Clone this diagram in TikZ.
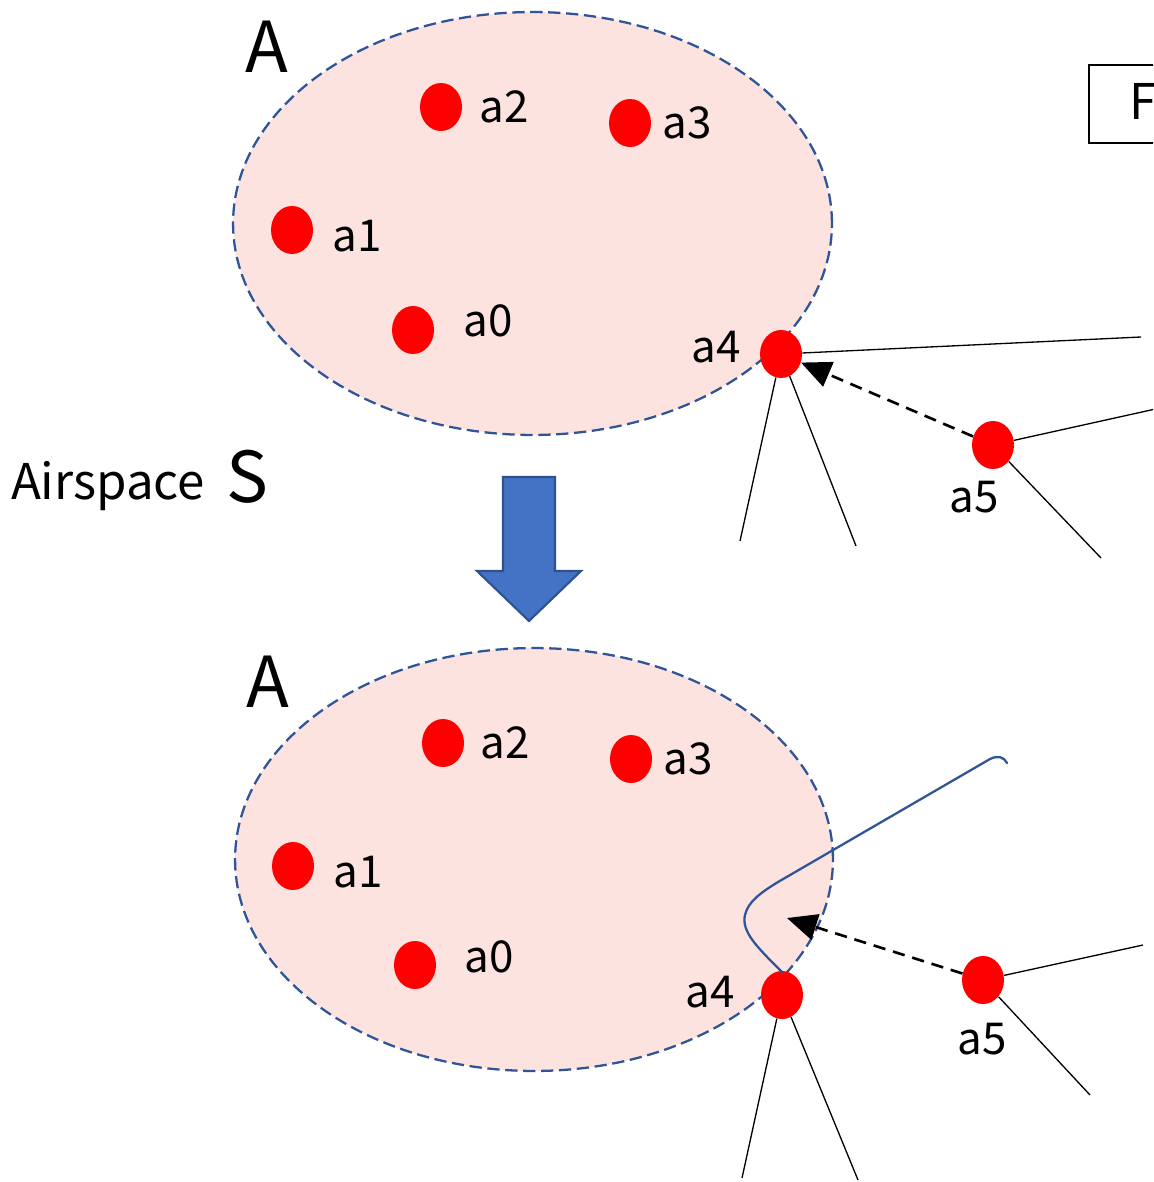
\documentclass[tikz,border=0pt]{standalone}
\usepackage{fontspec}
\setmainfont{Noto Sans CJK JP}
\usetikzlibrary{arrows.meta,shapes.geometric}
\definecolor{pinkfill}{HTML}{FDE3E0}
\definecolor{edgeblue}{HTML}{2F5597}
\definecolor{arrowfill}{HTML}{4472C4}
\definecolor{arrowedge}{HTML}{2F528F}
\begin{document}
\begin{tikzpicture}[x=0.02cm,y=-0.02cm,
  region/.style={ellipse, draw=edgeblue, fill=pinkfill, line width=1.3pt, dash pattern=on 7pt off 3.2pt, inner sep=0},
  dot/.style={ellipse, fill=red, minimum width=0.84cm, minimum height=0.96cm, inner sep=0},
  lbl/.style={inner sep=0, font=\fontsize{25}{29}\selectfont},
  big/.style={inner sep=0, font=\fontsize{40}{48}\selectfont},
  mid/.style={inner sep=0, font=\fontsize{28}{33}\selectfont},
  thinline/.style={line width=0.75pt},
  move/.style={line width=1.5pt, dash pattern=on 7pt off 4.5pt, -{Triangle[length=17pt,width=15pt]}},
  curveline/.style={draw=edgeblue, line width=1.3pt},
]
\useasboundingbox (0,0) rectangle (1153,1182);
\clip (0,0) rectangle (1153,1182);

% ---------- top situation ----------
\node[region, minimum width=11.98cm, minimum height=8.46cm] (A1) at (532.5,223.5) {};
\node[big] (Atop) at (267,47) {A};

\node[dot] (t2) at (441,107) {};
\node[dot] (t3) at (630,123) {};
\node[dot] (t1) at (292,230) {};
\node[dot] (t0) at (413,330) {};
\node[dot] (t4) at (781,354) {};
\node[dot] (t5) at (993,445) {};

\node[lbl] (lt2) at (504,107) {a2};
\node[lbl] (lt3) at (687,123) {a3};
\node[lbl] (lt1) at (357,236) {a1};
\node[lbl] (lt0) at (488,321) {a0};
\node[lbl] (lt4) at (716,347) {a4};
\node[lbl] (lt5) at (974,497) {a5};

\coordinate (t4r) at (1141,337);
\coordinate (t4d1) at (740,541);
\coordinate (t4d2) at (856,546);
\coordinate (t5r) at (1160,408);
\coordinate (t5d) at (1101,558);
\draw[thinline] (t4) -- (t4r);
\draw[thinline] (t4) -- (t4d1);
\draw[thinline] (t4) -- (t4d2);
\draw[thinline] (t5) -- (t5r);
\draw[thinline] (t5) -- (t5d);
\draw[move] (t5) -- (t4);

% box F
\draw[line width=1.2pt] (1089,65) rectangle (1180,143);
\node[mid, anchor=west] (F) at (1129,101) {F};

% airspace label
\node[mid] (air) at (108,486) {Airspace};
\node[big] (S) at (247,477) {S};

% big arrow
\draw[fill=arrowfill, draw=arrowedge, line width=1.2pt, line join=miter]
  (503,477) -- (555,477) -- (555,571) -- (581,571) -- (529,621) -- (477,571) -- (503,571) -- cycle;

% ---------- bottom situation ----------
\node[region, minimum width=11.96cm, minimum height=8.46cm] (A2) at (534,859.5) {};
\node[big] (Abot) at (268,682) {A};

\node[dot] (b2) at (443,743) {};
\node[dot] (b3) at (631,759) {};
\node[dot] (b1) at (293,866) {};
\node[dot] (b0) at (415,965) {};
\node[dot] (b4) at (782,995) {};
\node[dot] (b5) at (983,980) {};

\node[lbl] (lb2) at (505,743) {a2};
\node[lbl] (lb3) at (688,759) {a3};
\node[lbl] (lb1) at (358,872) {a1};
\node[lbl] (lb0) at (489,957) {a0};
\node[lbl] (lb4) at (710,992) {a4};
\node[lbl] (lb5) at (982,1039) {a5};

\coordinate (b4d1) at (742,1178);
\coordinate (b4d2) at (858,1180);
\coordinate (b5r) at (1143,945);
\coordinate (b5d) at (1090,1095);
\coordinate (tip) at (787,918);
\draw[thinline] (b4) -- (b4d1);
\draw[thinline] (b4) -- (b4d2);
\draw[thinline] (b5) -- (b5r);
\draw[thinline] (b5) -- (b5d);
\draw[move] (b5) -- (tip);

% new path curve
\coordinate (cs) at (783,973);
\coordinate (ce) at (1007,763);
\draw[curveline, line cap=round]
  (cs) .. controls (758,948) and (741,932) .. (745,915)
  .. controls (748,902) and (760,893) .. (778,882)
  -- (990,759) .. controls (998,755) and (1004,757) .. (ce);
\end{tikzpicture}
\end{document}
